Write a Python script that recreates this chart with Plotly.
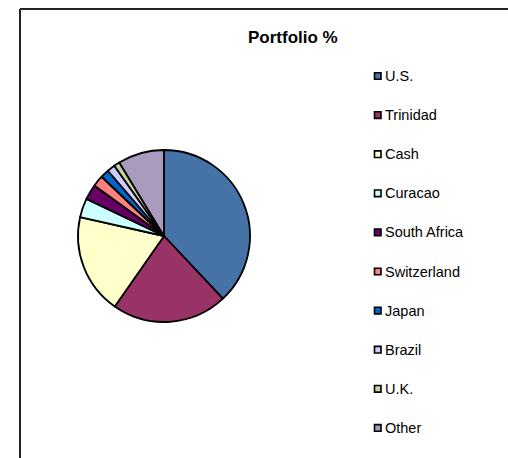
import plotly.graph_objects as go

labels = ["U.S.", "Trinidad", "Cash", "Curacao", "South Africa", "Switzerland",
          "Japan", "Brazil", "U.K.", "Other"]
values = [38.0, 21.7, 18.8, 3.6, 2.9, 2.1, 1.6, 1.5, 1.1, 8.7]
colors = ["#4572A7", "#993366", "#FFFFCC", "#CCFFFF", "#660066", "#FF8080",
          "#0066CC", "#CCCCFF", "#C3D69B", "#A99BBD"]

W, H = 508, 458

fig = go.Figure(go.Pie(
    labels=labels, values=values, sort=False, direction="clockwise", rotation=0,
    marker=dict(colors=colors, line=dict(color="black", width=1.8)),
    textinfo="none", hoverinfo="label+percent", showlegend=False,
    domain=dict(x=[78 / W, 250 / W], y=[1 - 322 / H, 1 - 150 / H]),
))

shapes = [
    dict(type="line", xref="paper", yref="paper", x0=20 / W, x1=20 / W, y0=-0.05, y1=1 - 9 / H,
         line=dict(color="#222", width=2)),
    dict(type="line", xref="paper", yref="paper", x0=20 / W, x1=1.05, y0=1 - 9 / H, y1=1 - 9 / H,
         line=dict(color="#222", width=2)),
]
annotations = [dict(text="<b>Portfolio %</b>", x=293 / W, y=1 - 38 / H, xref="paper", yref="paper",
                    showarrow=False, xanchor="center", yanchor="middle",
                    font=dict(family="Liberation Sans, Arial", size=17, color="black"))]

for i, (lab, col) in enumerate(zip(labels, colors)):
    yc = 76 + i * 39.1
    shapes.append(dict(type="rect", xref="paper", yref="paper",
                       x0=374.5 / W, x1=381 / W, y0=1 - (yc + 3.3) / H, y1=1 - (yc - 3.3) / H,
                       fillcolor=col, line=dict(color="black", width=1.6)))
    annotations.append(dict(text=lab, x=383 / W, y=1 - yc / H, xref="paper", yref="paper",
                            showarrow=False, xanchor="left", yanchor="middle",
                            font=dict(family="Liberation Sans, Arial", size=14.5, color="black")))

fig.update_layout(
    width=W, height=H, margin=dict(l=0, r=0, t=0, b=0),
    paper_bgcolor="white", plot_bgcolor="white",
    shapes=shapes, annotations=annotations,
)

fig.write_html("out.html", config={"displayModeBar": False},
               post_script="document.body.style.margin='0';document.body.style.overflow='hidden';")
